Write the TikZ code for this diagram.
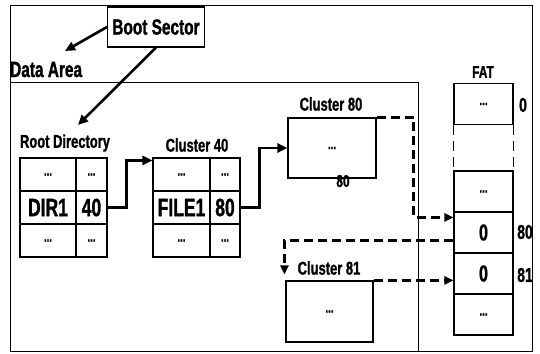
\documentclass[tikz,border=0pt]{standalone}
\usepackage{fontspec}
\setmainfont{Liberation Sans}[FakeStretch=0.70, BoldFeatures={FakeBold=1.2}]
\usetikzlibrary{arrows.meta,calc}

\begin{document}
\begin{tikzpicture}[x=1pt,y=-1pt,
  cell/.style={draw, line width=1.1pt, inner sep=0pt, minimum height=33pt},
  fatcell/.style={draw, line width=1.1pt, inner sep=0pt, minimum width=59pt, minimum height=41pt},
  box/.style={draw, line width=1.1pt, inner sep=0pt, font=\fontsize{14}{14}\selectfont\bfseries},
  head/.style={inner sep=0pt, font=\fontsize{22}{22}\selectfont\bfseries},
  lab/.style={inner sep=0pt, font=\fontsize{18.5}{18.5}\selectfont\bfseries},
  big/.style={font=\fontsize{25}{25}\selectfont\bfseries},
  mid/.style={inner sep=0pt, font=\fontsize{20}{20}\selectfont\bfseries},
  dots/.style={font=\fontsize{14}{14}\selectfont\bfseries},
  arr/.style={line width=2.6pt, -{Triangle[length=10pt,width=9pt]}},
  darr/.style={line width=2.6pt, dash pattern=on 9pt off 5pt, -{Triangle[length=9pt,width=8pt]}}]
\useasboundingbox (0,0) rectangle (540,353);
% 外框
\draw[line width=0.8pt] (10,5) rectangle (532,351);
\draw[line width=0.8pt] (10,82) rectangle (418,351);
% 标签
\node[box, font=\fontsize{22}{22}\selectfont\bfseries, minimum width=97pt, minimum height=40pt] (boot) at (156,27) {Boot Sector};
\node[head, anchor=base west] (data) at (10,77) {Data Area};
\node[lab] (rdlab) at (65,143) {Root Directory};
\node[lab] (calab) at (197,145) {Cluster 40};
\node[lab] (cblab) at (331,104) {Cluster 80};
\node[lab] (cclab) at (329,268) {Cluster 81};
\node[lab, font=\fontsize{17}{17}\selectfont\bfseries] (fatlab) at (483,72) {FAT};
\coordinate (dataend) at (65,51);
\coordinate (rdend) at (78,125);
% 根目录
\node[cell, minimum width=56pt, dots] (rdA) at (48,174.5) {...};
\node[cell, minimum width=31pt, dots] (rdAv) at (91.5,174.5) {...};
\node[cell, minimum width=56pt, big] (rdB) at (48,207.5) {DIR1};
\node[cell, minimum width=31pt, big] (rdBv) at (91.5,207.5) {40};
\node[cell, minimum width=56pt, dots] (rdC) at (48,240.5) {...};
\node[cell, minimum width=31pt, dots] (rdCv) at (91.5,240.5) {...};
% Cluster 40
\node[cell, minimum width=57pt, dots] (caA) at (181.5,174.5) {...};
\node[cell, minimum width=30pt, dots] (caAv) at (225,174.5) {...};
\node[cell, minimum width=57pt, big] (caB) at (181.5,207.5) {FILE1};
\node[cell, minimum width=30pt, big] (caBv) at (225,207.5) {80};
\node[cell, minimum width=57pt, dots] (caC) at (181.5,240.5) {...};
\node[cell, minimum width=30pt, dots] (caCv) at (225,240.5) {...};
% Cluster 80 / 81
\node[box, minimum width=88pt, minimum height=60pt] (cb) at (332,148) {...};
\node[lab, font=\fontsize{17}{17}\selectfont\bfseries] (cbnum) at (343,181) {80};
\node[box, minimum width=87pt, minimum height=61pt] (cc) at (329.5,311.5) {...};
% FAT
\node[fatcell, dots] (fat0) at (483.5,104) {...};
\node[fatcell, dots] (fat1) at (483.5,191.5) {...};
\node[fatcell, font=\fontsize{23}{23}\selectfont\bfseries] (fat80) at (483.5,232.5) {0};
\node[fatcell, font=\fontsize{23}{23}\selectfont\bfseries] (fat81) at (483.5,273.5) {0};
\node[fatcell, dots] (fat2) at (483.5,314.5) {...};
\node[mid] (n0) at (523,105) {0};
\node[mid] (n80) at (525,232) {80};
\node[mid] (n81) at (525,275) {81};
\draw[line width=1.1pt, dash pattern=on 10pt off 6pt] (fat0.south west) -- (fat1.north west);
\draw[line width=1.1pt, dash pattern=on 10pt off 6pt] (fat0.south east) -- (fat1.north east);
% 连线
\draw[arr] (boot.west) -- (dataend);
\draw[arr] (boot.south) -- (rdend);
\draw[arr] (rdBv.east) -- ++(19,0) |- ($(caA.north west)+(0,3)$);
\draw[arr] (caBv.east) -- ++(19,0) |- (cb.west);
\draw[darr] (cb.north east) -- ++(37,0) |- ($(fat80.north west)+(0,6)$);
\draw[darr] ($(fat80.west)+(0,8)$) -| ($(cc.north west)+(-1,-6)$);
\draw[darr] (cc.north east) -- (cc.north east -| fat81.west);
\end{tikzpicture}
\end{document}
